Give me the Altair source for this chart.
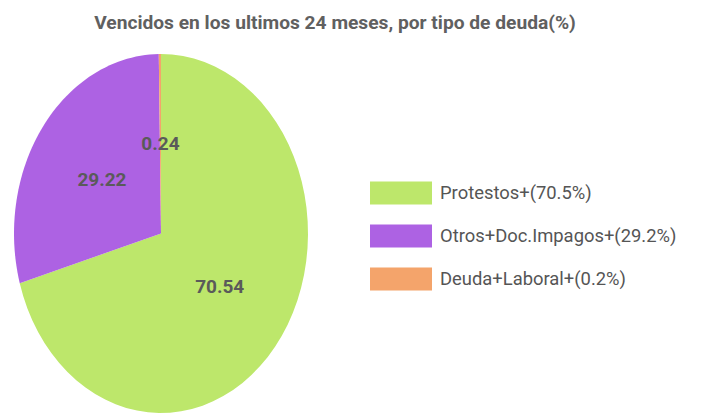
import altair as alt
import pandas as pd

# ---- data ----
categories = ["Protestos", "Otros+Doc.Impagos", "Deuda+Laboral"]
values = [70.54, 29.22, 0.24]
legend_labels = ["Protestos+(70.5%)", "Otros+Doc.Impagos+(29.2%)", "Deuda+Laboral+(0.2%)"]
slice_labels = ["70.54", "29.22", "0.24"]
colors = ["#bde76b", "#ad62e3", "#f4a46b"]
title_text = "Vencidos en los ultimos 24 meses, por tipo de deuda(%)"

df = pd.DataFrame({
    "cat": legend_labels,
    "value": values,
    "order": list(range(len(values))),
    "label": slice_labels,
})

FONT = "Roboto"

base = (
    alt.Chart(df)
    .transform_window(cum="sum(value)", sort=[alt.SortField("order")])
    .transform_joinaggregate(total="sum(value)")
    .transform_calculate(
        a0="2*PI*(datum.cum-datum.value)/datum.total",
        a1="2*PI*datum.cum/datum.total",
    )
)

xs = alt.Scale(domain=[-1, 1], nice=False, zero=False)
ys = alt.Scale(domain=[-1, 1], nice=False, zero=False)

slices = (
    base.transform_calculate(t="sequence(0, 62)")
    .transform_flatten(["t"])
    .transform_calculate(
        ang="datum.a0 + (datum.a1 - datum.a0) * (datum.t - 1) / 59",
        px="(datum.t == 0 || datum.t == 61) ? 0 : sin(datum.ang)",
        py="(datum.t == 0 || datum.t == 61) ? 0 : cos(datum.ang)",
    )
    .mark_line(filled=True, strokeWidth=0, interpolate="linear")
    .encode(
        x=alt.X("px:Q", scale=xs, axis=None),
        y=alt.Y("py:Q", scale=ys, axis=None),
        color=alt.Color(
            "cat:N",
            scale=alt.Scale(domain=legend_labels, range=colors),
            sort=legend_labels,
            legend=alt.Legend(
                title=None,
                orient="none",
                legendX=356,
                legendY=108,
                padding=0,
                symbolType="M-1,-0.37H1V0.37H-1Z",
                symbolSize=3844,
                symbolStrokeWidth=0,
                symbolOpacity=1,
                labelFont=FONT,
                labelFontSize=18.4,
                labelColor="#555555",
                labelOffset=8,
                labelLimit=400,
                rowPadding=-1,
            ),
        ),
        order=alt.Order("t:Q"),
    )
)

labels = (
    base.transform_calculate(
        mid="(datum.a0 + datum.a1) / 2",
        lx="0.5 * sin(datum.mid)",
        ly="0.5 * cos(datum.mid)",
    )
    .mark_text(font=FONT, fontSize=19, fontWeight="bold", color="#5a5a5a")
    .encode(
        x=alt.X("lx:Q", scale=xs, axis=None),
        y=alt.Y("ly:Q", scale=ys, axis=None),
        text="label:N",
    )
)

chart = (
    alt.layer(slices, labels)
    .properties(
        width=294,
        height=359,
        autosize="none",
        padding={"left": 14, "top": 54, "right": 397, "bottom": 3},
        title=alt.TitleParams(
            title_text,
            font=FONT,
            fontSize=19.2,
            fontWeight="bold",
            color="#606060",
            anchor="middle",
            frame="group",
            dx=174,
            offset=6,
            baseline="alphabetic",
        ),
        background="white",
    )
    .configure_view(stroke=None)
)

chart.save("out.html", embed_options={"renderer": "svg", "actions": False})
